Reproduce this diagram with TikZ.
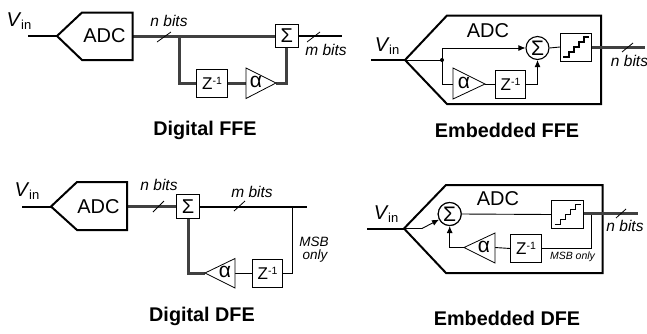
\documentclass[tikz,border=0pt]{standalone}
\usepackage{fontspec}
\setmainfont{Liberation Sans}
\usetikzlibrary{arrows.meta}
\newcommand{\fsz}[1]{\fontsize{#1}{#1}\selectfont}
\newcommand{\vin}{\fsz{20}\textit{V}\kern-0.5pt\raisebox{-3pt}{\fsz{13}in}}
\newcommand{\zinv}{\fsz{17}Z\raisebox{5pt}{\fsz{10.5}-1}}
\newcommand{\stairpath}[1]{\draw[line width=1.1pt] ([shift={(-13,10)}]#1.center) -- ++(6,0) -- ++(0,-5) -- ++(5,0) -- ++(0,-5) -- ++(5,0) -- ++(0,-5) -- ++(5,0) -- ++(0,-5) -- ++(5,0);}
\tikzset{
  x=1pt,y=-1pt,
  wire/.style={line width=2pt,black},
  thinwire/.style={line width=0.9pt,black},
  bus/.style={line width=3pt,draw=black!75,line join=miter},
  adcbody/.style={line width=2pt,line join=miter,fill=white},
  sblock/.style={draw,line width=0.8pt,fill=white,minimum width=22.5pt,minimum height=23.5pt,inner sep=0pt,font=\fsz{20}},
  zblock/.style={draw,line width=0.8pt,fill=white,minimum width=30.5pt,minimum height=28pt,inner sep=0pt},
  qblock/.style={draw,line width=0.8pt,fill=white,minimum width=31.5pt,minimum height=28pt,inner sep=0pt},
  sumc/.style={draw,circle,line width=1.1pt,fill=white,minimum size=23pt,inner sep=0pt,font=\fsz{21}},
  tri/.style={line width=0.8pt,fill=white,line join=miter},
  slashline/.style={line width=0.8pt},
  adctext/.style={font=\fsz{20},inner sep=0pt},
  bits/.style={font=\fsz{15.5}\itshape,inner sep=0pt},
  alab/.style={font=\fsz{21},inner sep=0pt},
  title/.style={font=\fsz{19.8}\bfseries,inner sep=0pt},
  arr/.style={-{Latex[length=7pt,width=6pt]}},
}
\begin{document}
\begin{tikzpicture}
\useasboundingbox (0,0) rectangle (647,333);
% ---- Digital FFE
\coordinate (a1in) at (28,36);
\coordinate (a1tip) at (57,36);
\coordinate (a1out) at (132.5,36);
\coordinate (a1end) at (342,36);
\coordinate (a1br) at (179,36);
\coordinate (a1t) at (276,83);
\draw[bus] (a1out) -- (276,36);
\draw[bus] (a1br) |- (197,83);
\draw[bus] (227,83) -- (246,83);
\draw[bus] (a1t) -| (286.7,48);
\node[sblock] (a1s) at (286.7,36) {Σ};
\node[zblock] (a1z) at (212,83) {\zinv};
\draw[wire] (a1in) -- (a1tip);
\draw[adcbody] (a1tip) -- (82,12.5) -- (132.5,12.5) -- (132.5,60) -- (82,60) -- cycle;
\draw[wire] (a1s.east) -- (a1end);
\draw[tri] (246,68) -- (246,98.5) -- (a1t) -- cycle;
\node[alab] (a1al) at (256,82) {α};
\node[adctext] (a1adc) at (104.5,36) {ADC};
\node[inner sep=0pt] (a1v) at (19,21) {\vin};
\draw[slashline] (157,42) -- (171,32);
\draw[slashline] (307,42) -- (320,32);
\node[bits] (a1n) at (169,21) {n bits};
\node[bits] (a1m) at (326,50) {m bits};
\node[title] (a1l) at (205,130) {Digital FFE};
% ---- Embedded FFE
\coordinate (b1in) at (371,60);
\coordinate (b1tip) at (405,60);
\coordinate (b1d) at (442,60);
\coordinate (b1t) at (485,84);
\coordinate (b1end) at (645,47);
\draw[wire] (b1in) -- (b1tip);
\draw[adcbody] (b1tip) -- (447,15.5) -- (601,15.5) -- (601,104) -- (447,104) -- cycle;
\node[sumc] (b1s) at (537.5,48) {Σ};
\node[qblock] (b1q) at (576,47) {};
\node[zblock] (b1z) at (510.5,84) {\zinv};
\draw[thinwire] (b1tip) -- (b1d);
\fill (b1d) circle (2pt);
\draw[thinwire,arr] (b1d) |- (b1s.west);
\draw[thinwire] (b1d) |- (453,84);
\draw[tri] (453,68) -- (453,99) -- (b1t) -- cycle;
\draw[thinwire] (b1t) -- (b1z.west);
\draw[thinwire,arr] (b1z.east) -| (b1s.south);
\draw[thinwire] (b1s.east) -- (b1q.west);
\draw[bus] (b1q.east) -- (b1end);
\stairpath{b1q}
\node[alab] (b1al) at (464,83) {α};
\node[adctext] (b1adc) at (488,31) {ADC};
\node[inner sep=0pt] (b1v) at (387,46) {\vin};
\draw[slashline] (622,52) -- (633,43);
\node[bits] (b1n) at (629.5,61) {n bits};
\node[title] (b1l) at (507,130) {Embedded FFE};
% ---- Digital DFE
\coordinate (c1in) at (22,206.5);
\coordinate (c1tip) at (51,206.5);
\coordinate (c1out) at (127,206.5);
\coordinate (c1end) at (307,206.5);
\coordinate (c1br) at (292,206.5);
\coordinate (c1t) at (205,273);
\draw[bus] (c1out) -- (177,206.5);
\draw[bus] (c1t) -| (188,218);
\node[sblock] (c1s) at (188,206.5) {Σ};
\node[zblock] (c1z) at (267.5,273) {\zinv};
\draw[wire] (c1in) -- (c1tip);
\draw[adcbody] (c1tip) -- (77,182) -- (127,182) -- (127,230) -- (77,230) -- cycle;
\draw[wire] (c1s.east) -- (c1end);
\draw[thinwire] (c1br) |- (c1z.east);
\draw[thinwire] (c1z.west) -- (235,273);
\draw[tri] (235,258.5) -- (235,288) -- (c1t) -- cycle;
\node[alab] (c1al) at (225,272) {α};
\node[adctext] (c1adc) at (98.5,206.5) {ADC};
\node[inner sep=0pt] (c1v) at (27,191) {\vin};
\draw[slashline] (153,212) -- (164,201);
\draw[slashline] (234,211) -- (245,201);
\node[bits] (c1n) at (159,185) {n bits};
\node[bits] (c1m) at (252,192) {m bits};
\node[bits,font=\fsz{13.5}\itshape] (c1b1) at (314,242) {MSB};
\node[bits,font=\fsz{13.5}\itshape] (c1b2) at (315,256) {only};
\node[title] (c1l) at (202,316) {Digital DFE};
% ---- Embedded DFE
\coordinate (d1in) at (367,228.5);
\coordinate (d1tip) at (404,228.5);
\coordinate (d1m) at (422,228.5);
\coordinate (d1t) at (464,247.5);
\coordinate (d1end) at (638,213);
\coordinate (d1br) at (591,213);
\draw[wire] (d1in) -- (d1tip);
\draw[adcbody] (d1tip) -- (446,185) -- (602.5,185) -- (602.5,273) -- (446,273) -- cycle;
\node[sumc] (d1s) at (449.7,214) {};
\node[qblock] (d1q) at (567.5,214.5) {};
\node[zblock] (d1z) at (526,248.5) {\zinv};
\draw[thinwire] (d1tip) -- (d1m);
\draw[thinwire,arr] (d1m) -- (d1s);
\node[sumc] (d1sb) at (d1s) {Σ};
\draw[thinwire] (d1s.east) -- (d1q.west);
\draw[thinwire] (d1br) |- (d1z.east);
\draw[bus] (d1q.east |- d1end) -- (d1end);
\draw[thinwire] (d1z.west) -- (495,247.5);
\draw[tri] (495,233) -- (495,263) -- (d1t) -- cycle;
\draw[thinwire,arr] (d1t) -| (d1s.south);
\stairpath{d1q}
\node[alab] (d1al) at (484,246.5) {α};
\node[adctext] (d1adc) at (498,199) {ADC};
\node[inner sep=0pt] (d1v) at (386,214) {\vin};
\draw[slashline] (616,218) -- (626,209);
\node[bits] (d1n) at (625,226) {n bits};
\node[bits,font=\fsz{10.5}\itshape] (d1b) at (572.5,256.5) {MSB only};
\node[title] (d1l) at (507,318) {Embedded DFE};
\end{tikzpicture}
\end{document}
